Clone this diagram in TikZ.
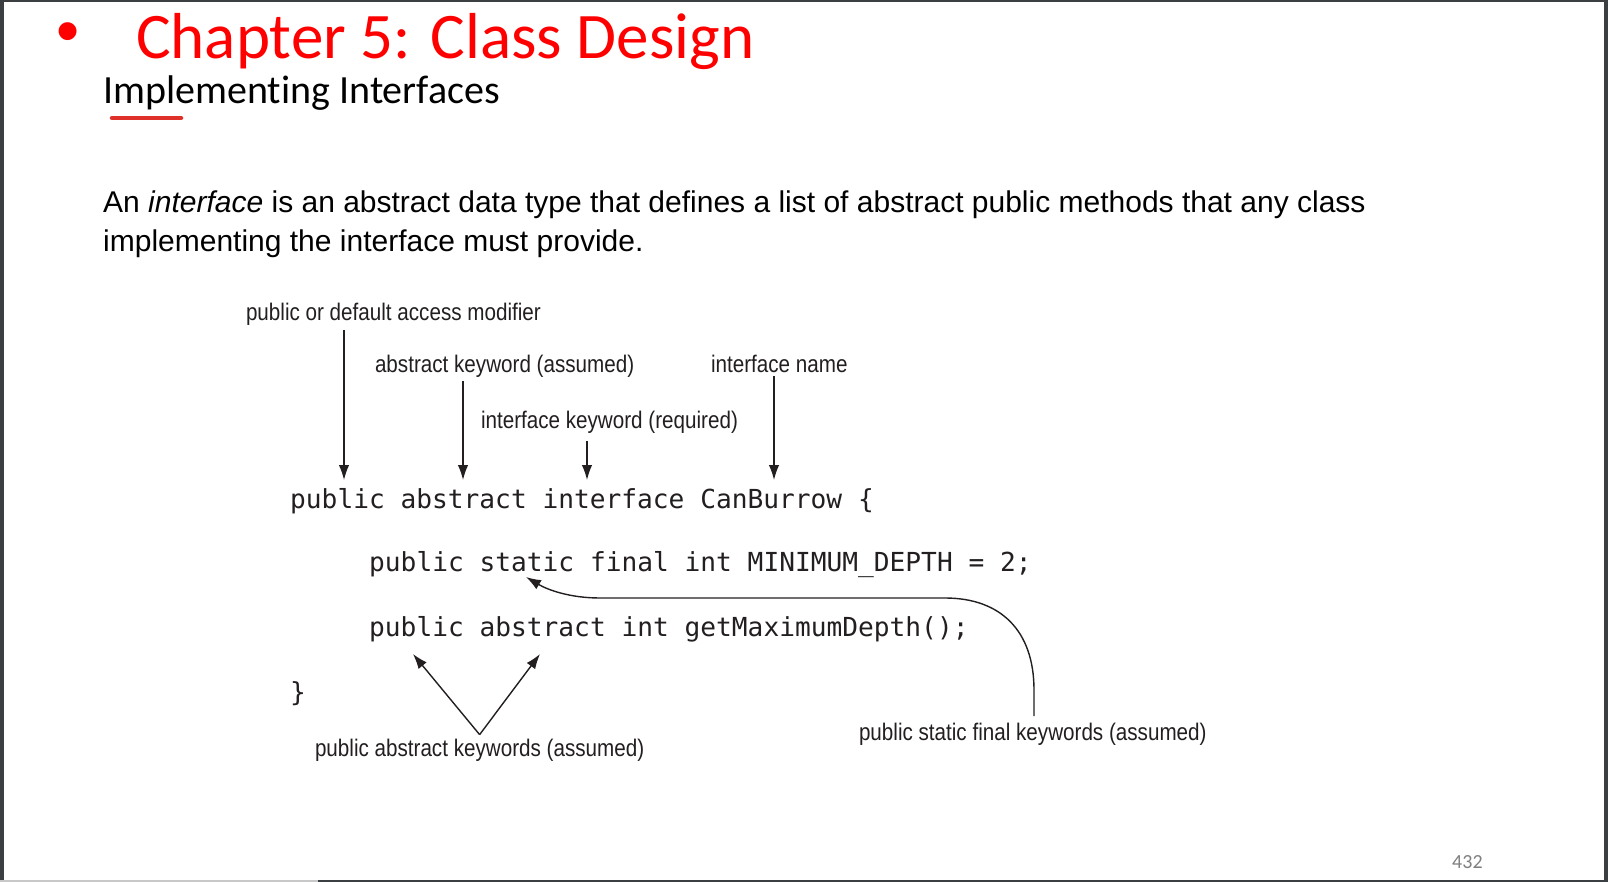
\documentclass[tikz,border=0pt]{standalone}
\usepackage{fontspec}
\usetikzlibrary{arrows.meta}
\newfontfamily\calfont[Ligatures=NoCommon]{Carlito}
\newfontfamily\arialfont{Liberation Sans}
\newfontfamily\condfont[FakeStretch=0.86]{Liberation Sans}
\newfontfamily\codefont{DejaVu Sans Mono}
\definecolor{framegray}{HTML}{3C3F41}
\definecolor{edgegray}{HTML}{C8C8C8}
\definecolor{ulred}{HTML}{E0302A}
\definecolor{ink}{HTML}{231F20}
\definecolor{pagegray}{HTML}{7F7F7F}
\begin{document}
\begin{tikzpicture}[x=1pt,y=-1pt,
  txt/.style={inner sep=0pt, anchor=base west},
  lbl/.style={txt, font=\condfont\fontsize{24}{28}\selectfont, text=ink, outer sep=4pt},
  code/.style={txt, font=\codefont\fontsize{26.2}{32}\selectfont, text=ink},
  arr/.style={draw=ink, line width=1.4pt, -{Latex[length=15pt,width=10.5pt]}}
]
\useasboundingbox (0,0) rectangle (1608,882);
% window frame around the slide
\fill[framegray] (0,0) rectangle (1608,882);
\fill[white] (4,2) rectangle (1604,880);
\fill[edgegray] (0,880) rectangle (318,882);

% heading
\node[anchor=center, inner sep=0pt, font=\arialfont\fontsize{66}{72}\selectfont, text=red] (bullet) at (68,38) {•};
\node[txt, font=\calfont\fontsize{65}{78}\selectfont, text=red] (title) at (136,59) {Chapter 5: Class Design};
\node[txt, font=\calfont\fontsize{40}{48}\selectfont] (subtitle) at (103,104) {Implementing Interfaces};
\draw[ulred, line width=4.5pt, line cap=round] (112,118) -- (181,118);

% definition
\node[txt, font=\arialfont\fontsize{30}{36}\selectfont] (par1) at (103,213)
  {An \textit{interface} is an abstract data type that defines a list of abstract public methods that any class};
\node[txt, font=\arialfont\fontsize{30}{36}\selectfont] (par2) at (103,252)
  {implementing the interface must provide.};

% upper labels
\node[lbl] (lmod)  at (242,321) {public or default access modifier};
\node[lbl] (labs)  at (371,372) {abstract keyword (assumed)};
\node[lbl] (lname) at (707,372) {interface name};
\node[lbl] (lkey)  at (477,428) {interface keyword (required)};

% code
\node[code] (c1) at (290,508) {public abstract interface CanBurrow \{};
\node[code] (c2) at (369,571) {public static final int MINIMUM\char"5F DEPTH = 2;};
\node[code] (c3) at (369,636) {public abstract int getMaximumDepth();};
\node[code] (c4) at (290,701) {\}};

% lower labels
\node[lbl] (lpa)  at (311,756) {public abstract keywords (assumed)};
\node[lbl] (lpsf) at (855,740) {public static final keywords (assumed)};

% page number
\node[txt, font=\calfont\fontsize{20}{24}\selectfont, text=pagegray] (pnum) at (1452,868) {432};

% arrow targets
\coordinate (tmod)  at (344,480);
\coordinate (tabs)  at (463,480);
\coordinate (tkey)  at (587,480);
\coordinate (tname) at (774,480);
\coordinate (tpub)  at (413,654);
\coordinate (tab2)  at (540,654);
\coordinate (tsta)  at (526,577);
\coordinate (vtx)   at (lpa.north);
\coordinate (cstart) at (1034,716);

\draw[arr] (lmod.south -| tmod) -- (tmod);
\draw[arr] (labs.south -| tabs) -- (tabs);
\draw[arr, shorten <=4pt] (lkey.south -| tkey) -- (tkey);
\draw[arr] (lname.south -| tname) -- (tname);

\draw[arr] (vtx) -- (tpub);
\draw[arr] (vtx) -- (tab2);

\draw[arr] (cstart) -- (1034,690) .. controls (1034,630) and (1000,598) .. (945,598)
  -- (600,598) .. controls (570,598) and (548,590) .. (tsta);
\end{tikzpicture}
\end{document}
